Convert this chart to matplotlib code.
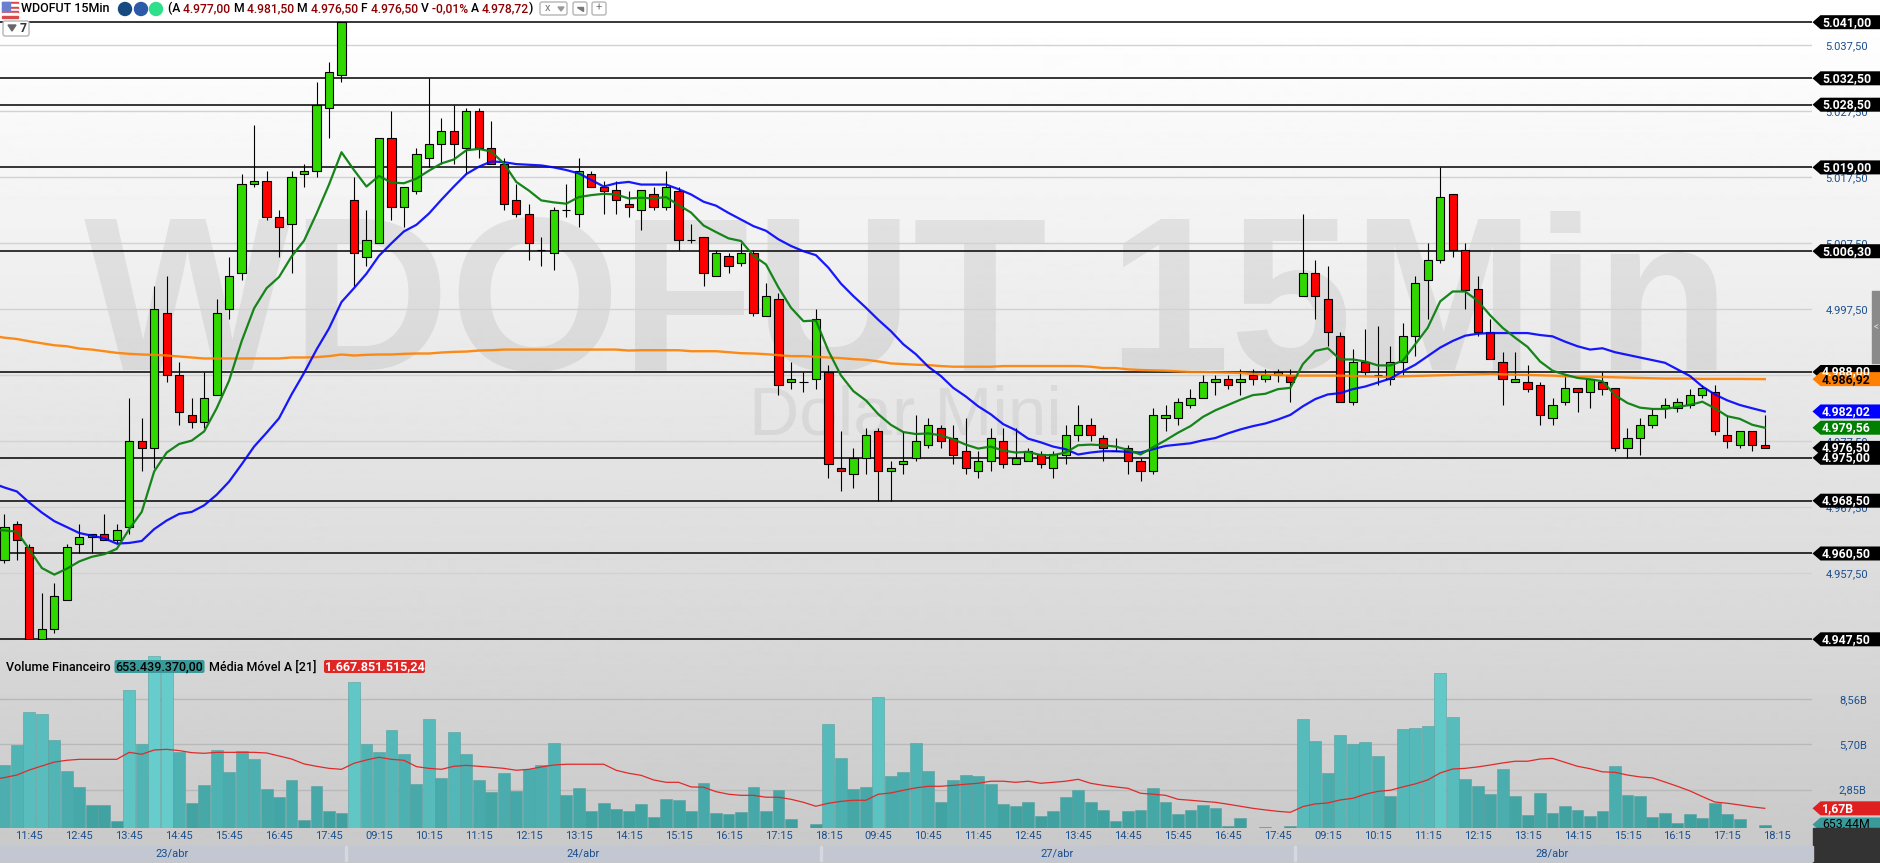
import numpy as np
import matplotlib
matplotlib.use("Agg")
import matplotlib.pyplot as plt
from matplotlib.colors import LinearSegmentedColormap
from matplotlib.patches import Rectangle, Circle, FancyBboxPatch, Polygon

# candles, 15 min bars, one entry per candle
opens = [4959.5, 4965, 4961.5, 4947.5, 4949, 4953.5, 4962, 4963, 4963.5, 4962.5,
	4964.5, 4977.5, 4976.5, 4997, 4987.5, 4981.5, 4980.5, 4984.5, 4997.5, 5003,
	5016.5, 5017, 5011.5, 5010.5, 5018, 5018.5, 5028, 5033, 5014, 5005.5,
	5007.5, 5023.5, 5013, 5015.5, 5020.5, 5022.5, 5024.5, 5022, 5027.5, 5022,
	5019.5, 5014, 5012, 5006.5, 5006, 5012.5, 5012, 5018, 5016, 5015.5,
	5013.5, 5012.5, 5015, 5013, 5015.5, 5008, 5008.5, 5002.5, 5005.5, 5004.5,
	5006, 4996.5, 4999, 4986.5, 4986.5, 4987, 4988, 4973.5, 4972.5, 4975,
	4979, 4973, 4974, 4975, 4977, 4979.5, 4978, 4976, 4973, 4974.5,
	4977.5, 4974, 4974.5, 4975.5, 4973.5, 4975.5, 4978.5, 4980, 4978, 4976,
	4976.5, 4974.5, 4973, 4981, 4981, 4983, 4984, 4986.5, 4987, 4986.5,
	4987.5, 4987, 4987.5, 4987.5, 4999.5, 5003, 4999, 4993.5, 4983.5, 4989.5,
	4987.5, 4987, 4989.5, 4993.5, 5002, 5005, 5015, 5006.5, 5000.5, 4994,
	4989.5, 4986.5, 4986.5, 4986, 4981, 4983.5, 4985.5, 4985, 4986.5, 4985.5,
	4976.5, 4978, 4980, 4982.5, 4982.5, 4983, 4984.5, 4985, 4978.5, 4977,
	4979, 4977]
closes = [4964.5, 4962.5, 4947.5, 4949, 4954, 4961.5, 4963, 4963.5, 4962.5, 4964,
	4977.5, 4976.5, 4997.5, 4987.5, 4982, 4980.5, 4984, 4997, 5002.5, 5016.5,
	5017, 5011.5, 5010, 5017.5, 5018.5, 5028.5, 5033.5, 5041, 5006, 5008,
	5023.5, 5013, 5016, 5021, 5022.5, 5024.5, 5022.5, 5027.5, 5022, 5019.5,
	5013.5, 5012, 5007.5, 5006.5, 5012.5, 5012.5, 5018.5, 5016, 5015.5, 5014,
	5013, 5015.5, 5013, 5016, 5008, 5008, 5003, 5006, 5004, 5006,
	4997, 4999.5, 4986, 4987, 4986.5, 4996, 4974, 4973, 4975, 4978.5,
	4973, 4973.5, 4974.5, 4977.5, 4980, 4977.5, 4975.5, 4973.5, 4974.5, 4978,
	4974, 4975, 4976, 4974, 4975.5, 4978.5, 4980, 4978.5, 4976.5, 4976,
	4974.5, 4973, 4981.5, 4981.5, 4983.5, 4984, 4986.5, 4987, 4986, 4987,
	4987, 4987.5, 4988, 4986.5, 5003, 4999.5, 4994, 4983.5, 4989.5, 4988,
	4987.5, 4989.5, 4993.5, 5001.5, 5005, 5014.5, 5006.5, 5000.5, 4994, 4990,
	4987, 4987, 4985.5, 4981.5, 4983, 4985.5, 4985, 4987, 4985.5, 4976.5,
	4978, 4980, 4981.5, 4983, 4983.5, 4984.5, 4985.5, 4979, 4977.5, 4979,
	4977, 4976.5]
highs = [4966.5, 4965.5, 4962, 4954.5, 4956, 4962, 4965, 4963.5, 4966.5, 4965,
	4984, 4981, 5001, 5002.5, 4989.5, 4984, 4988, 4999, 5005.5, 5018,
	5025.5, 5018.5, 5012.5, 5018.5, 5019.5, 5032, 5035, 5041, 5017.5, 5012.5,
	5023.5, 5027.5, 5016, 5022, 5032.5, 5026.5, 5028.5, 5028, 5028, 5026,
	5020.5, 5016.5, 5013.5, 5008.5, 5013, 5016.5, 5020.5, 5018.5, 5017, 5017,
	5015.5, 5015.5, 5016, 5018.5, 5016, 5010.5, 5008.5, 5006.5, 5006, 5007.5,
	5006.5, 5001.5, 5000, 4989.5, 4988, 4997.5, 4989, 4979, 4976.5, 4979.5,
	4979.5, 4974.5, 4979, 4981.5, 4981, 4980, 4980, 4981, 4976, 4979.5,
	4979.5, 4979.5, 4976.5, 4976, 4976, 4980, 4983, 4981, 4978.5, 4978,
	4977, 4975, 4982.5, 4983, 4984, 4985.5, 4987.5, 4987.5, 4987.5, 4988.5,
	4988.5, 4988.5, 4988.5, 4988.5, 5012, 5005, 5004, 4994, 4991.5, 4994.5,
	4995, 4992, 4995.5, 5002.5, 5007.5, 5019, 5015, 5007.5, 5002.5, 4996,
	4991, 4991, 4989, 4986.5, 4984, 4987.5, 4985.5, 4987, 4988, 4985.5,
	4979.5, 4981, 4982.5, 4984, 4984, 4985.5, 4986, 4986, 4981.5, 4979,
	4979, 4981.5]
lows = [4959, 4959.5, 4947.5, 4947.5, 4948.5, 4953.5, 4960.5, 4960.5, 4962.5, 4962,
	4963.5, 4973, 4973.5, 4986.5, 4980, 4979.5, 4979.5, 4984.5, 4996, 5002,
	5016, 5011, 5005.5, 5003, 5016, 5017.5, 5023.5, 5032, 5001, 5004,
	5007.5, 5011, 5010, 5015, 5019, 5019.5, 5019.5, 5018, 5020.5, 5019.5,
	5012.5, 5011.5, 5005, 5004, 5003.5, 5011.5, 5010, 5016, 5012, 5012,
	5011.5, 5009.5, 5012.5, 5012.5, 5006.5, 5007.5, 5001, 5002.5, 5003, 5004,
	4996.5, 4996.5, 4984.5, 4985.5, 4985, 4985.5, 4972, 4970, 4970.5, 4972.5,
	4968.5, 4968.5, 4972.5, 4974.5, 4976.5, 4976.5, 4974, 4972.5, 4972, 4973,
	4973.5, 4974, 4974.5, 4973.5, 4972, 4974, 4977.5, 4977.5, 4974.5, 4976,
	4972.5, 4971.5, 4972.5, 4979, 4980, 4982.5, 4984, 4984.5, 4985.5, 4984.5,
	4986, 4986.5, 4986.5, 4983.5, 4999.5, 4996, 4992, 4983.5, 4983, 4987.5,
	4986, 4986, 4987.5, 4990.5, 4996, 5004.5, 5005.5, 4997.5, 4993.5, 4990,
	4983, 4986.5, 4985, 4980, 4980, 4983, 4982, 4982.5, 4984.5, 4976,
	4975, 4975.5, 4979.5, 4981, 4982, 4982.5, 4984, 4978.5, 4976.5, 4976.5,
	4976, 4976.5]

# moving averages start one bar before the first visible candle
ma_fast = [4964.1, 4964, 4963.8, 4961.1, 4958.3, 4957.3, 4958.2, 4959.3, 4960, 4960.4, 4961.2,
	4964.2, 4966.8, 4972.95, 4975.8, 4977.1, 4977.6, 4979, 4982.5, 4986.7, 4992.65,
	4997.65, 5000.7, 5002.4, 5005.5, 5007.9, 5012, 5016.4, 5021.3, 5018.6, 5016.1,
	5017.7, 5016.7, 5016.6, 5017.3, 5018.5, 5019.6, 5020.2, 5021.6, 5021.8, 5021.4,
	5019.6, 5016.8, 5015.5, 5014, 5013.7, 5013.5, 5014.5, 5014.8, 5015, 5014.9,
	5014.3, 5014.4, 5014.3, 5014.5, 5013.3, 5012.15, 5010.2, 5009.2, 5008.25, 5007.85,
	5005.6, 5004.3, 5000.8, 4997.75, 4995.7, 4995.8, 4991.2, 4987.5, 4985.1, 4983.7,
	4981.6, 4980, 4978.9, 4978.6, 4978.7, 4978.4, 4977.8, 4977, 4976.4, 4976.7,
	4976.1, 4975.8, 4975.9, 4975.4, 4975.4, 4975.8, 4976.9, 4977, 4976.9, 4976.7,
	4976.2, 4975.5, 4976.6, 4977.65, 4978.8, 4979.8, 4981.2, 4982.2, 4983, 4983.8,
	4984.5, 4984.7, 4985.4, 4985.6, 4989.2, 4991.2, 4991.6, 4989.9, 4989.9, 4989.6,
	4989, 4989, 4989.7, 4992.2, 4994.7, 4998.7, 5000.2, 5000.2, 4998.8, 4996.6,
	4994.7, 4993.2, 4991.8, 4989.6, 4988.2, 4987.6, 4987.1, 4986.9, 4986.6, 4984.5,
	4983.3, 4982.6, 4982.4, 4982.4, 4982.7, 4983, 4983.5, 4982.5, 4981.3, 4980.9,
	4980, 4979.56]
ma_slow = [4971.2, 4970.5, 4969.9, 4968.2, 4966.7, 4965.4, 4964.5, 4963.6, 4963.2, 4962.8, 4962,
	4962.1, 4962.4, 4964.2, 4965.5, 4966.5, 4966.8, 4967.8, 4969.4, 4971.4, 4974,
	4976.7, 4978.8, 4981, 4984.6, 4987.85, 4991.4, 4994.6, 4998.6, 5000.7, 5002.9,
	5005.6, 5007.5, 5009.3, 5010.3, 5012, 5014.1, 5016.1, 5018, 5019.1, 5019.9,
	5019.8, 5019.5, 5019.4, 5019.3, 5019, 5018.6, 5018.1, 5017.1, 5016.1, 5016.6,
	5016.8, 5016.4, 5016.4, 5016.4, 5015.7, 5014.9, 5013.8, 5013.2, 5012.1, 5011.1,
	5010.1, 5009.4, 5008.1, 5007.1, 5006.3, 5005.7, 5003.8, 5001.4, 4999.5, 4997.75,
	4995.9, 4994.2, 4992.2, 4990.7, 4988.8, 4987.4, 4985.6, 4984.3, 4982.8, 4981.6,
	4980.1, 4979.2, 4977.9, 4977.35, 4976.7, 4976.3, 4975.5, 4975.8, 4976, 4976,
	4975.9, 4975.8, 4976.3, 4976.8, 4977, 4977.2, 4977.65, 4978, 4978.7, 4979.3,
	4979.8, 4980.2, 4980.8, 4981.5, 4982.8, 4983.9, 4984.6, 4984.8, 4985.4, 4985.8,
	4986.4, 4987, 4988.1, 4989.1, 4990.4, 4991.7, 4992.7, 4993.5, 4993.8, 4993.9,
	4993.9, 4993.9, 4993.9, 4993.6, 4993.4, 4992.6, 4991.9, 4991.4, 4991.6, 4991,
	4990.6, 4990.2, 4989.8, 4989.4, 4988.4, 4987.4, 4985.8, 4984.6, 4983.7, 4983,
	4982.5, 4982.02]
ma_long = [4993.5, 4993.2, 4993, 4992.65, 4992.35, 4992.05, 4991.9, 4991.55, 4991.4, 4991.15, 4990.9,
	4990.75, 4990.65, 4990.6, 4990.5, 4990.35, 4990.2, 4990.05, 4990.05, 4990.05, 4990.05,
	4990.05, 4990.05, 4990.05, 4990.2, 4990.2, 4990.25, 4990.4, 4990.65, 4990.5, 4990.6,
	4990.65, 4990.65, 4990.75, 4990.8, 4990.8, 4990.95, 4991.05, 4991.1, 4991.25, 4991.3,
	4991.4, 4991.4, 4991.4, 4991.4, 4991.4, 4991.4, 4991.4, 4991.4, 4991.4, 4991.4,
	4991.25, 4991.3, 4991.3, 4991.3, 4991.3, 4991.15, 4991.15, 4991.15, 4991, 4990.85,
	4990.8, 4990.7, 4990.55, 4990.4, 4990.4, 4990.3, 4990.2, 4990.1, 4989.95, 4989.85,
	4989.6, 4989.3, 4989.2, 4989.1, 4989.05, 4988.9, 4988.8, 4988.8, 4988.8, 4988.8,
	4988.9, 4988.9, 4988.9, 4988.9, 4988.9, 4988.9, 4988.9, 4988.8, 4988.6, 4988.6,
	4988.4, 4988.3, 4988.25, 4988.2, 4988.1, 4988, 4988, 4987.95, 4987.9, 4987.85,
	4987.7, 4987.6, 4987.55, 4987.45, 4987.45, 4987.45, 4987.45, 4987.45, 4987.4, 4987.35,
	4987.3, 4987.25, 4987.35, 4987.4, 4987.45, 4987.5, 4987.55, 4987.6, 4987.65, 4987.7,
	4987.65, 4987.6, 4987.55, 4987.5, 4987.45, 4987.35, 4987.3, 4987.3, 4987.25, 4987.2,
	4987.15, 4987.1, 4987.05, 4987, 4987, 4987, 4986.95, 4986.95, 4986.95, 4986.95,
	4986.93, 4986.92]

# financial volume in billions, None where the bar falls under the pane
volume = [4.40, 5.67, 7.75, 7.62, 5.98, 4.03, 3.02, 1.88, 1.88, 0.87,
	9.13, 5.73, 11.27, 10.81, 5.22, 2.01, 3.14, 5.35, 3.96, 5.29,
	4.78, 2.89, 2.39, 3.46, 0.94, 3.08, 1.50, 1.38, 9.64, 5.73,
	5.22, 6.61, 5.10, 3.21, 7.30, 3.59, 6.48, 5.10, 3.46, 2.70,
	3.90, 2.77, 4.15, 4.40, 5.79, 2.51, 2.96, 1.50, 2.01, 1.63,
	1.50, 1.95, 1.13, 2.26, 2.20, 1.50, 3.27, 1.38, 1.32, 1.44,
	3.02, 1.50, 2.83, 1.00, None, 0.69, 6.99, 4.85, 2.89, 3.02,
	8.69, 3.71, 3.96, 5.79, 4.03, 2.07, 3.46, 3.77, 3.71, 3.21,
	1.95, 1.82, 2.07, 1.19, 1.50, 2.39, 2.83, 2.07, 1.57, 0.87,
	1.50, 1.57, 2.96, 2.07, 1.32, 1.57, 1.88, 1.69, 0.56, 1.06,
	None, 0.48, None, 0.56, 7.30, 5.92, 3.90, 6.30, 5.73, 5.85,
	4.97, 2.45, 6.67, 6.74, 6.86, 10.20, 7.43, 3.52, 3.08, 2.58,
	4.15, 2.45, 1.25, 2.64, 1.38, 1.82, 1.57, 1.19, 1.50, 4.34,
	2.51, 2.45, 1.13, 1.38, 0.75, 1.32, 1.06, 2.01, 1.32, 1.00,
	None, 0.65]
volume_ma = [3.48, 3.61, 3.77, 4.09, 4.34, 4.59, 4.70, 4.76, 4.76, 4.76, 4.76,
	5.20, 5.08, 5.35, 5.39, 5.31, 5.18, 5.14, 5.20, 5.20, 5.20,
	5.20, 5.16, 4.97, 4.78, 4.47, 4.32, 4.19, 4.13, 4.51, 4.72,
	4.89, 4.76, 4.70, 4.30, 4.19, 4.13, 4.32, 4.38, 4.32, 4.26,
	4.19, 4.07, 4.13, 4.28, 4.40, 4.45, 4.45, 4.45, 4.45, 4.07,
	3.88, 3.75, 3.46, 3.31, 3.31, 3.02, 3.00, 2.72, 2.56, 2.49,
	2.49, 2.37, 2.37, 2.24, 2.05, 1.80, 1.99, 2.11, 2.18, 2.18,
	2.56, 2.64, 2.81, 2.96, 3.06, 3.06, 3.12, 3.19, 3.25, 3.38,
	3.38, 3.31, 3.38, 3.25, 3.31, 3.38, 3.50, 3.25, 3.12, 3.02,
	2.93, 2.62, 2.56, 2.49, 2.24, 2.18, 2.11, 2.05, 1.93, 1.80,
	1.67, 1.57, 1.48, 1.42, 1.78, 1.95, 2.01, 2.20, 2.30, 2.56,
	2.74, 2.81, 3.02, 3.21, 3.46, 3.90, 4.15, 4.19, 4.28, 4.40,
	4.53, 4.64, 4.64, 4.78, 4.82, 4.57, 4.32, 4.17, 3.97, 3.94,
	3.77, 3.65, 3.59, 3.33, 3.06, 2.77, 2.41, 2.07, 1.99, 1.88,
	1.76, 1.67]

price_grid = [5037.5, 5027.5, 5017.5, 5007.5, 4997.5, 4987.5, 4977.5, 4967.5, 4957.5]
price_grid_labels = ["5.037,50", "5.027,50", "5.017,50", "5.007,50", "4.997,50",
	"4.987,50", "4.977,50", "4.967,50", "4.957,50"]
levels = [5041, 5032.5, 5028.5, 5019, 5006.3, 4988, 4975, 4968.5, 4960.5, 4947.5]
level_labels = ["5.041,00", "5.032,50", "5.028,50", "5.019,00", "5.006,30", "4.988,00",
	"4.975,00", "4.968,50", "4.960,50", "4.947,50"]

vol_grid = [8.56, 5.70, 2.85]
vol_grid_labels = ["8,56B", "5,70B", "2,85B"]

time_labels = ["11:45", "12:45", "13:45", "14:45", "15:45", "16:45", "17:45", "09:15", "10:15",
	"11:15", "12:15", "13:15", "14:15", "15:15", "16:15", "17:15", "18:15", "09:45", "10:45",
	"11:45", "12:45", "13:45", "14:45", "15:45", "16:45", "17:45", "09:15", "10:15", "11:15",
	"12:15", "13:15", "14:15", "15:15", "16:15", "17:15", "18:15"]
day_labels = ["23/abr", "24/abr", "27/abr", "28/abr"]

W, H = 1881, 863
PANE_R = 1812.5
PX0, PXSTEP = 4.4, 12.485
FONT = "Roboto"
TICK_BLUE = "#1c4f8c"
BODY_GREEN = "#30d800"
BODY_RED = "#ff0000"

fig = plt.figure(figsize=(W / 100, H / 100), dpi=100)
fig.patch.set_facecolor("white")

# background gradient and watermarks
bg = fig.add_axes([0, 0, 1, 1], zorder=0)
grad = np.concatenate([np.full(22, 255.0), np.linspace(255, 216, 618), np.linspace(216, 200, H - 640)])
bg.imshow(grad[:, None], cmap="gray", vmin=0, vmax=255, aspect="auto", extent=[0, W, H, 0])
bg.set_xlim(0, W)
bg.set_ylim(H, 0)
bg.axis("off")
bg.text(907, 313, "WDOFUT 15Min", fontsize=158, fontweight="bold", family="Liberation Sans",
	color="black", alpha=0.07, ha="center", va="center")
bg.text(905, 416, "Dolar Mini", fontsize=50, family="Liberation Sans", color="black",
	alpha=0.06, ha="center", va="center")

xmin = -PX0 / PXSTEP
xmax = (PANE_R - PX0) / PXSTEP
idx = np.arange(len(opens))
idx_ma = np.arange(-1, len(opens))

# price pane
ax = fig.add_axes([0, 1 - 640 / H, PANE_R / W, 640 / H], zorder=1)
ax.patch.set_alpha(0)
for s in ax.spines.values():
	s.set_visible(False)
ax.set_yticks(price_grid)
ax.set_yticklabels(price_grid_labels, family=FONT, fontsize=8, color=TICK_BLUE)
ax.yaxis.tick_right()
ax.tick_params(axis="y", length=0, pad=9.5)
ax.set_xticks([])
ax.grid(axis="y", color="#d2d2d2", lw=1.0)
ax.set_axisbelow(True)

ax.hlines(levels, xmin, xmax, color="black", lw=1.1, zorder=2)

ax.vlines(idx, lows, highs, color="black", lw=0.8, zorder=3)
for i in idx:
	col = BODY_GREEN if closes[i] >= opens[i] else BODY_RED
	ax.bar(i, abs(closes[i] - opens[i]), bottom=min(opens[i], closes[i]), width=0.66,
		color=col, edgecolor="black", lw=0.8, zorder=4)

ax.plot(idx_ma, ma_long, color="#ff8000", lw=1.7, alpha=0.9, zorder=5)
ax.plot(idx_ma, ma_slow, color="#0000ff", lw=1.6, alpha=0.9, zorder=6)
ax.plot(idx_ma, ma_fast, color="#0b7f10", lw=1.6, alpha=0.95, zorder=7)

ax.set_xlim(xmin, xmax)
ax.set_ylim(5037.5 - (640 - 45.3) / 6.6, 5037.5 + 45.3 / 6.6)

def tag(a, value, text, face, fg, per_px, weight="bold"):
	# pointed label on the right of a pane, left edge at the pane border
	x0 = xmax
	x1 = xmax + 8 / PXSTEP
	x2 = xmax + 68.5 / PXSTEP
	h = 7 * per_px
	a.add_patch(Polygon([(x0, value), (x1, value + h), (x2, value + h), (x2, value - h), (x1, value - h)],
		closed=True, facecolor=face, edgecolor="none", clip_on=False, zorder=20))
	a.text(xmax + 9.5 / PXSTEP, value, text, family=FONT, fontsize=8.8, fontweight=weight, color=fg,
		va="center", ha="left", clip_on=False, zorder=21)

for v, t in zip(levels, level_labels):
	if v != 4975:
		tag(ax, v, t, "black", "white", 1 / 6.6)
tag(ax, 4986.92, "4.986,92", "#ff8000", "black", 1 / 6.6)
tag(ax, 4982.02, "4.982,02", "#0000ff", "white", 1 / 6.6)
tag(ax, 4979.56, "4.979,56", "#008000", "white", 1 / 6.6)
tag(ax, 4975, "4.975,00", "black", "white", 1 / 6.6)
tag(ax, 4976.5, "4.976,50", "black", "white", 1 / 6.6)

# volume pane
vol = fig.add_axes([0, 1 - 828 / H, PANE_R / W, 187 / H], zorder=1)
vol.patch.set_alpha(0)
for s in vol.spines.values():
	s.set_visible(False)
vol.set_yticks(vol_grid)
vol.set_yticklabels(vol_grid_labels, family=FONT, fontsize=8, color=TICK_BLUE)
vol.yaxis.tick_right()
vol.tick_params(axis="y", length=0, pad=19)
vol.grid(axis="y", color="#b9b9b9", lw=1.0)
vol.set_axisbelow(True)

teal = LinearSegmentedColormap.from_list("teal", ["#3a9a9a", "#66cccc"])
for i, v in enumerate(volume):
	if v is not None:
		vol.bar(i, v, width=0.95, color=teal(v / 11.0), edgecolor="#5a9f9f", lw=0.4, zorder=3)
vol.plot(idx_ma, volume_ma, color="#e02a2a", lw=0.9, zorder=4)

vol.set_xticks(np.arange(2, 143, 4))
vol.set_xticklabels(time_labels, family=FONT, fontsize=8, color=TICK_BLUE)
vol.tick_params(axis="x", length=0, pad=2)
vol.set_xlim(xmin, xmax)
vol.set_ylim(0.43, 12.22)

tag(vol, 1.67, "1,67B", "#e02020", "white", 1 / 15.87)
tag(vol, 0.65, "653,44M", "#3a9a9a", "black", 1 / 15.87, weight="normal")

# overlay in pixel coordinates for the trading-platform chrome
deco = fig.add_axes([0, 0, 1, 1], zorder=5)
deco.set_xlim(0, W)
deco.set_ylim(H, 0)
deco.axis("off")
deco.patch.set_alpha(0)

deco.add_patch(Rectangle((PANE_R, 828), W - PANE_R, H - 828, color="#333333"))
deco.add_patch(Rectangle((0, 846), PANE_R, 15, color="#c2c7d1"))
for x in [346, 821, 1294.5]:
	deco.add_patch(Rectangle((x - 1, 846), 2, 15, color="#d5d8de"))
for x, t in zip([172, 583, 1057, 1552], day_labels):
	deco.text(x, 853.5, t, family=FONT, fontsize=8, color=TICK_BLUE, ha="center", va="center")

# side handle
deco.add_patch(Rectangle((1872, 291), 9, 72, color="#8a8a8a"))
deco.text(1876.5, 327, "<", family=FONT, fontsize=7, color="#dddddd", ha="center", va="center")

# header
stripe = ["#d94a4a", "white"]
for k in range(7):
	deco.add_patch(Rectangle((2, 2 + k * 2.3), 16, 2.3, color=stripe[k % 2]))
deco.add_patch(Rectangle((2, 2), 8, 9, color="#6a7fd0"))
deco.text(21, 8.5, "WDOFUT 15Min", family=FONT, fontsize=9, fontweight="medium", color="black", va="center")
deco.add_patch(Circle((125, 9), 6.5, color="#164a80"))
deco.add_patch(Circle((141, 9), 6.5, color="#2a5aa8"))
deco.add_patch(Circle((156, 9), 6.5, color="#2fe08a"))

parts = [("(A ", "black"), ("4.977,00 ", "#8b0000"), ("M ", "black"), ("4.981,50 ", "#8b0000"),
	("M ", "black"), ("4.976,50 ", "#8b0000"), ("F ", "black"), ("4.976,50 ", "#8b0000"),
	("V ", "black"), ("-0,01% ", "#8b0000"), ("A ", "black"), ("4.978,72", "#8b0000"), (")", "black")]
fig.canvas.draw()
rend = fig.canvas.get_renderer()
xpos = 168
for s, c in parts:
	txt = deco.text(xpos, 8.5, s.replace(" ", "\u00a0"), family=FONT, fontsize=8.7, fontweight="medium", color=c, va="center")
	xpos = deco.transData.inverted().transform(txt.get_window_extent(rend))[1, 0]

for x0, w in [(540, 27), (573, 14), (592, 14)]:
	deco.add_patch(FancyBboxPatch((x0, 2), w, 13, boxstyle="round,pad=0,rounding_size=2",
		facecolor="white", edgecolor="#b5b5b5", lw=1))
deco.text(599, 8, "+", family=FONT, fontsize=8, color="#777777", ha="center", va="center")
deco.text(548, 8, "x", family=FONT, fontsize=8, color="#777777", ha="center", va="center")
deco.add_patch(Polygon([(558, 7), (564, 7), (561, 11)], color="#999999"))
deco.add_patch(Polygon([(577, 7), (583, 7), (583, 11)], color="#777777"))

# collapsed studies box
deco.add_patch(FancyBboxPatch((3, 21), 26, 15, boxstyle="round,pad=0,rounding_size=2",
	facecolor="white", edgecolor="#b5b5b5", lw=1))
deco.add_patch(Polygon([(8, 25), (16, 25), (12, 31)], color="#666666"))
deco.text(23, 28, "7", family=FONT, fontsize=8.8, fontweight="bold", color="#333333", ha="center", va="center")

# volume legend
deco.text(6, 667, "Volume Financeiro", family=FONT, fontsize=9, fontweight="medium", color="black", va="center")
deco.add_patch(FancyBboxPatch((114.5, 660), 90, 13, boxstyle="round,pad=0,rounding_size=2", color="#3a9a9a", lw=0))
deco.text(159, 667, "653.439.370,00", family=FONT, fontsize=9, fontweight="medium", color="black", ha="center", va="center")
deco.text(209, 667, "Média Móvel A [21]", family=FONT, fontsize=9, fontweight="medium", color="black", va="center")
deco.add_patch(FancyBboxPatch((324, 660), 101, 13, boxstyle="round,pad=0,rounding_size=2", color="#e02525", lw=0))
deco.text(374.5, 667, "1.667.851.515,24", family=FONT, fontsize=9, fontweight="bold", color="white", ha="center", va="center")

fig.savefig("out.png", dpi=100)
